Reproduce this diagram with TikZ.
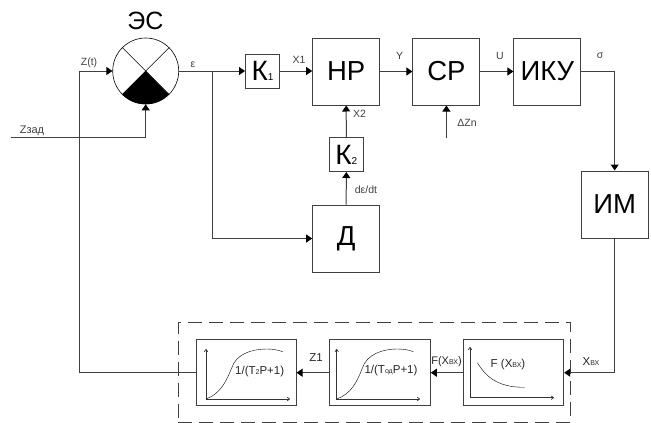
\documentclass[tikz,border=0pt]{standalone}
\usepackage{fontspec}
\setmainfont{Liberation Sans}
\usetikzlibrary{arrows.meta}

\tikzset{
bigbox/.style = {draw=black!75, line width=1pt, minimum width=67pt, minimum height=67pt, inner sep=0pt, font=\fontsize{27.5}{27.5}\selectfont},
gainbox/.style = {draw=black!75, line width=1pt, minimum width=34pt, minimum height=34pt, inner sep=0pt, font=\fontsize{28}{28}\selectfont},
plotbox/.style = {draw=black!75, line width=1pt, minimum width=100pt, minimum height=66pt, inner sep=0pt},
lbl/.style = {text=black!75, inner sep=0pt, font=\fontsize{10.5}{10.5}\selectfont},
plotlbl/.style = {text=black!85, inner sep=0pt, font=\fontsize{11.5}{11.5}\selectfont},
sig/.style = {draw=black!75, line width=1pt, -{Triangle[length=6pt,width=8pt,black]}},
wire/.style = {draw=black!75, line width=1pt},
axis/.style = {draw=black!80, line width=0.7pt, <->, >={To[length=3pt,width=4pt]}}
}
\newcommand{\tinysub}[1]{{\fontsize{7}{7}\selectfont #1}}
\newcommand{\gainsub}[1]{{\fontsize{10}{10}\selectfont #1}}

\begin{document}
\begin{tikzpicture}[x=1pt,y=-1pt]
\useasboundingbox (0,0) rectangle (651,423);
% comparator
\node[circle,draw=black,line width=0.6pt,minimum size=66pt,inner sep=0pt] (es) at (145.7,71) {};
\fill[black] (es.center) -- (es.-135) arc[start angle=-135,end angle=-45,radius=33pt] -- cycle;
\draw[black,line width=0.5pt] (es.135) -- (es.-45);
\draw[black,line width=0.5pt] (es.45) -- (es.-135);
\node[font=\fontsize{25}{25}\selectfont] (estitle) at (145.5,21) {ЭС};

% blocks
\node[gainbox] (k1) at (262.5,71) {К\gainsub{1}};
\node[bigbox] (np) at (346.2,71.5) {НР};
\node[bigbox] (sp) at (446.4,71.5) {СР};
\node[bigbox] (iku) at (547.4,71.5) {ИКУ};
\node[bigbox] (im) at (614.7,204.5) {ИМ};
\node[gainbox] (k2) at (346.3,154.5) {К\gainsub{2}};
\node[bigbox] (d) at (346.2,238.5) {Д};

% lower chain
\node[draw=black!75,dash pattern=on 14pt off 7pt,line width=1pt,minimum width=392.4pt,minimum height=100pt,inner sep=0pt] (plant) at (374.5,372.3) {};
\node[plotbox] (tf1) at (246,372.7) {};
\node[plotbox,minimum width=101pt] (tf2) at (379.8,372.7) {};
\node[plotbox] (fx) at (513.7,372.7) {};

% plots
\draw[axis] (206,349) |- (290,399);
\draw[black] (206,399) .. controls (220,394) and (226,382) .. (231.7,368) .. controls (236,354) and (252,349) .. (266.7,349) .. controls (273,349) and (278,350) .. (282.7,351.7);
\draw[axis] (336.7,349) |- (420,399);
\draw[black] (336.7,399) .. controls (351,394) and (357,382) .. (362.4,368) .. controls (367,354) and (383,349) .. (397.4,349) .. controls (404,349) and (409,350) .. (413.4,351.7);
\draw[axis] (470,347) |- (554,397.7);
\draw[black] (477.3,362.7) .. controls (484,373) and (494,387.5) .. (524.3,387.3);
\node[plotlbl] (tf1text) at (259.7,372) {1/(T\tinysub{2}P+1)};
\node[plotlbl] (tf2text) at (391,371) {1/(T\tinysub{од}P+1)};
\node[plotlbl] (fxtext) at (508,365) {F (X\tinysub{ВХ})};

% connections
\coordinate (zset) at (11,137.5);
\coordinate (dzin) at (446.4,138);
\coordinate (zbend) at (79,71);
\coordinate (eps) at (212.5,71);
\draw[sig] (zset) -| (es.south);
\draw[wire] (tf1.west) -| (zbend);
\draw[sig] (zbend) -- (es.west);
\draw[wire] (es.east) -- (eps);
\draw[sig] (eps) -- (k1.west);
\draw[sig] (eps) |- (d.west);
\draw[sig] (k1.east) -- (np.west |- k1.east);
\draw[sig] (np.east) -- (sp.west);
\draw[sig] (sp.east) -- (iku.west);
\draw[sig] (iku.east) -| (im.north);
\draw[sig] (k2.north) -- (np.south);
\draw[sig] (d.north) -- (k2.south);
\draw[sig] (dzin) -- (sp.south);
\draw[sig] (im.south) |- (fx.east);
\draw[sig] (fx.west) -- (tf2.east);
\draw[sig] (tf2.west) -- (tf1.east);

% labels
\node[lbl] (lz) at (89,63) {Z(t)};
\node[lbl] (leps) at (193,65) {ε};
\node[lbl] (lx1) at (299,60) {X1};
\node[lbl] (lx2) at (359.5,114) {X2};
\node[lbl] (ly) at (399.5,56) {Y};
\node[lbl] (lu) at (500,56) {U};
\node[lbl] (lsig) at (600,56) {σ};
\node[lbl] (ldz) at (467,123) {ΔZn};
\node[lbl] (ldedt) at (366,190) {dε/dt};
\node[lbl,font=\fontsize{11}{11}\selectfont] (lzset) at (32,131) {Zзад};
\node[plotlbl] (lz1) at (316,358) {Z1};
\node[plotlbl,font=\fontsize{11}{11}\selectfont] (lfx) at (446.5,362) {F(X\tinysub{ВХ})};
\node[plotlbl] (lxin) at (591,362) {X\tinysub{ВХ}};
\end{tikzpicture}
\end{document}
